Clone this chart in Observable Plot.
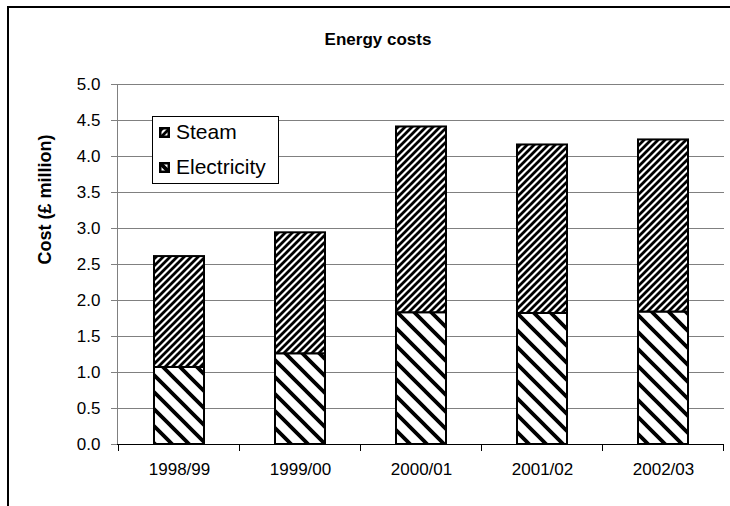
<!DOCTYPE html>
<html><head><meta charset="utf-8">
<script src="https://cdn.jsdelivr.net/npm/d3@7"></script>
<script src="https://cdn.jsdelivr.net/npm/@observablehq/plot@0.6"></script>
<style>
body{margin:0;background:#fff;}
#wrap{position:relative;width:730px;height:506px;overflow:hidden;font-family:"Liberation Sans",Arial,sans-serif;}
#frame{position:absolute;left:7px;top:6px;width:760px;height:540px;border-top:2px solid #000;border-left:2px solid #000;}
#title{position:absolute;left:278px;width:200px;top:30px;text-align:center;font-weight:bold;font-size:17px;}
#legend{position:absolute;left:152px;top:116px;width:125px;height:66px;border:1px solid #000;background:#fff;}
.row{position:absolute;left:5px;display:flex;align-items:center;font-size:21px;}
.row svg{margin-right:5px;}
#chart{position:absolute;left:0;top:0;}
</style></head>
<body>
<svg width="0" height="0" style="position:absolute">
  <defs>
    <pattern id="steam" patternUnits="userSpaceOnUse" width="7" height="7">
      <rect width="7" height="7" fill="#fff"/>
      <path d="M-2,2 L2,-2 M0,7 L7,0 M5,9 L9,5" stroke="#000" stroke-width="2.8"/>
    </pattern>
    <pattern id="elec" patternUnits="userSpaceOnUse" width="17" height="17">
      <rect width="17" height="17" fill="#fff"/>
      <path d="M-4,13 L4,21 M0,0 L17,17 M13,-4 L21,4" stroke="#000" stroke-width="3.8"/>
    </pattern>
  </defs>
</svg>
<div id="wrap">
  <div id="chart"></div>
  <div id="frame"></div>
  <div id="title">Energy costs</div>
  <div id="legend"></div>
</div>
<script>
const years = ["1998/99", "1999/00", "2000/01", "2001/02", "2002/03"];
const electricity = [1.07, 1.26, 1.83, 1.82, 1.84];
const steam = [1.54, 1.68, 2.58, 2.34, 2.39];
const seriesNames = ["Steam", "Electricity"];
const yTicks = [0, 0.5, 1, 1.5, 2, 2.5, 3, 3.5, 4, 4.5, 5];
const patternOf = {Electricity: "url(#elec)", Steam: "url(#steam)"};

const rows = [];
years.forEach((yr, i) => rows.push({year: yr, series: "Electricity", value: electricity[i]}));
years.forEach((yr, i) => rows.push({year: yr, series: "Steam", value: steam[i]}));

const plot = Plot.plot({
  width: 730,
  height: 506,
  marginLeft: 117,
  marginRight: 6,
  marginTop: 84,
  marginBottom: 62,
  style: {fontFamily: "Liberation Sans, Arial, sans-serif", background: "transparent"},
  x: {domain: years, paddingInner: 0.59, paddingOuter: 0.295, label: null},
  y: {domain: [0, 5], label: null},
  color: {type: "identity"},
  marks: [
    Plot.ruleY(yTicks.filter(d => d > 0), {stroke: "#808080", strokeWidth: 1}),
    Plot.frame({anchor: "left", stroke: "#808080"}),
    Plot.barY(rows, {x: "year", y: "value", fill: d => patternOf[d.series], stroke: "#000", strokeWidth: 2}),
    Plot.ruleY([0], {stroke: "#000", strokeWidth: 1}),
    Plot.axisY({ticks: yTicks, tickSize: 6, tickPadding: 11, tickFormat: d3.format(".1f"), stroke: "#808080", fontSize: 17, fill: "#000"}),
    Plot.axisX({tickSize: 0, tickPadding: 18, fontSize: 17, fill: "#000"}),
    Plot.text(["Cost (£ million)"], {text: d => d, frameAnchor: "left", dx: -72, rotate: -90, fontWeight: "bold", fontSize: 18, fill: "#000"})
  ]
});
document.getElementById("chart").appendChild(plot);

// boundary ticks on the x axis, from the band scale
const xs = plot.scale("x");
const ys = plot.scale("y");
const half = (xs.step - xs.bandwidth) / 2;
const bounds = years.map(y => xs.apply(y) - half).concat([xs.apply(years[years.length - 1]) + xs.bandwidth + half]);
const y0 = ys.apply(0);
d3.select(plot).append("g").selectAll("line").data(bounds).join("line")
  .attr("x1", d => d).attr("x2", d => d).attr("y1", y0).attr("y2", y0 + 7)
  .attr("stroke", "#000").attr("stroke-width", 1);

// legend
const leg = d3.select("#legend");
seriesNames.forEach((s, i) => {
  const r = leg.append("div").attr("class", "row").style("top", (i === 0 ? 3 : 38) + "px");
  const sv = r.append("svg").attr("width", 13).attr("height", 13);
  sv.append("rect").attr("x", 1).attr("y", 1).attr("width", 11).attr("height", 11)
    .attr("fill", "#000");
  sv.append("rect").attr("x", 3.5).attr("y", 3.5).attr("width", 6).attr("height", 6)
    .attr("fill", patternOf[s]);
  r.append("span").text(s);
});
</script>
</body></html>
